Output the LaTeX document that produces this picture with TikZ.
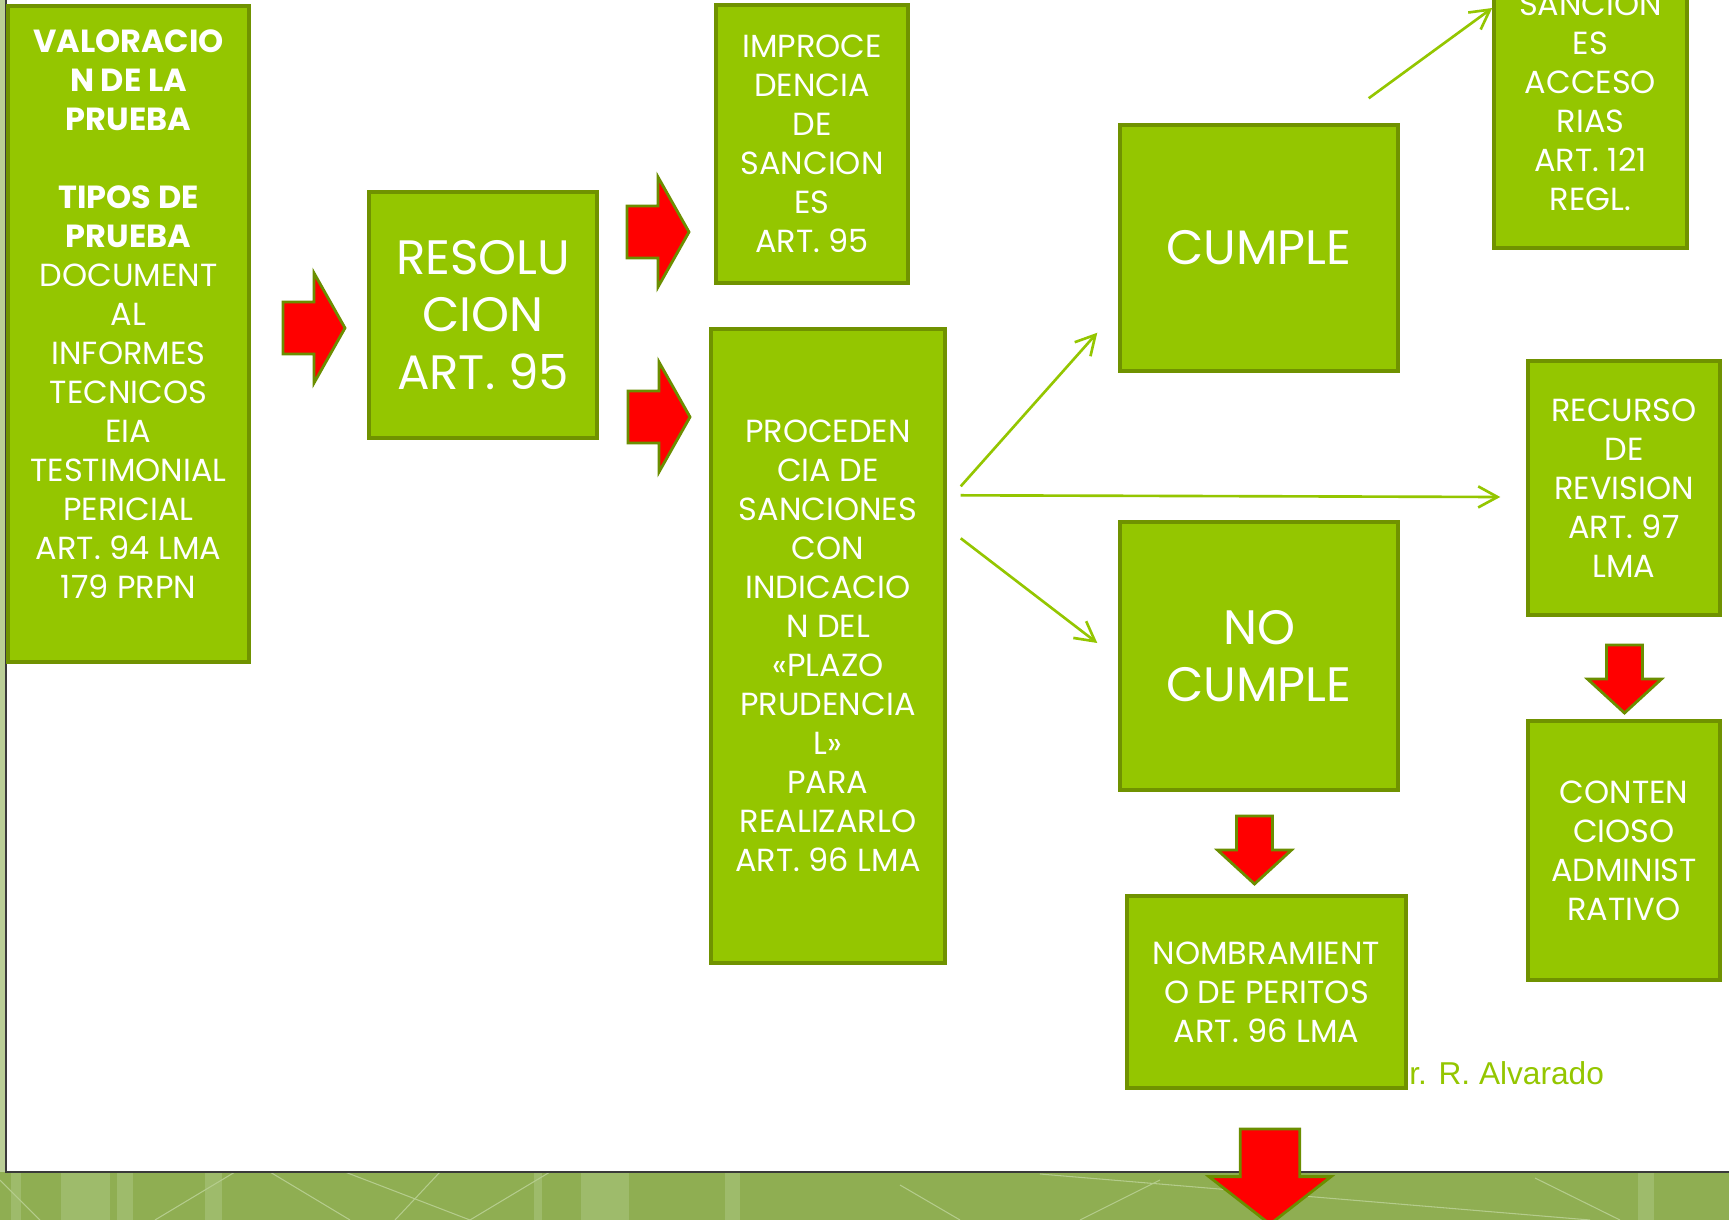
\documentclass[tikz,border=0pt]{standalone}
\usepackage{fontspec}
\setmainfont{Poppins}
\newfontfamily\firma{Liberation Sans}
\usetikzlibrary{arrows.meta}

\definecolor{verde}{RGB}{148,198,0}
\definecolor{verdeosc}{RGB}{112,146,0}
\definecolor{borde}{RGB}{107,142,0}
\definecolor{fondo}{RGB}{143,174,82}
\definecolor{franja}{RGB}{158,187,107}
\definecolor{raya}{RGB}{180,204,140}
\definecolor{marco}{RGB}{58,58,58}

\tikzset{
  caja/.style={draw=verdeosc, line width=2pt, fill=verde, text=white, align=center,
    inner sep=0pt, font=\fontsize{18.2}{22.2}\selectfont},
  grande/.style={font=\fontsize{27.5}{32.5}\selectfont},
  flecha/.style={draw=borde, fill=red, line width=1.6pt, line join=miter},
  enlace/.style={verde, line width=1.5pt, -{Straight Barb[length=11pt,width=12pt]}},
  pics/flechader/.style={code={
    \draw[flecha] (0,-26) -- (31,-26) -- (31,-55) -- (62,0) -- (31,55) -- (31,26) -- (0,26) -- cycle;}},
  pics/flechaabajo/.style={code={
    \draw[flecha] (-18,0) -- (18,0) -- (18,34) -- (37,34) -- (0,68) -- (-37,34) -- (-18,34) -- cycle;}}
}

\begin{document}
\begin{tikzpicture}[x=0.02cm, y=-0.02cm]
    \useasboundingbox (0,0) rectangle (1729,1220);

    % Fondo de la diapositiva
    \fill[fondo] (0,0) rectangle (1729,1220);
    \fill[franja!70!white] (0,0) rectangle (5,1172);
    \foreach \a/\b in {11/21, 61/110, 117/133, 205/222, 534/542, 581/629, 725/740, 1638/1654}
        \fill[franja] (\a,1172) rectangle (\b,1220);
    \foreach \a/\b/\c/\d in {0/1180/40/1220, 155/1220/235/1172, 270/1172/350/1220, 345/1172/470/1220,
        395/1220/440/1172, 470/1220/550/1172, 900/1185/960/1220, 1160/1180/1080/1220,
        1040/1174/1590/1220, 1535/1178/1620/1220}
        \draw[raya, line width=0.6pt] (\a,\b) -- (\c,\d);
    \fill[white] (6,0) rectangle (1729,1172);
    \draw[marco, line width=1.2pt] (6,0) |- (1729,1172);

    % Firma
    \node[anchor=west, inner sep=0pt, text=verde, font=\firma\fontsize{18}{20}\selectfont] (autor) at (1409,1073) {r. R. Alvarado};

    % Cajas principales
    \node[caja, minimum width=4.82cm, minimum height=13.12cm] (valor) at (128.5,334)
        {\textbf{VALORACIO}\\ \textbf{N DE LA}\\ \textbf{PRUEBA}\\ \mbox{}\\ \textbf{TIPOS DE}\\ \textbf{PRUEBA}\\
         DOCUMENT\\ AL\\ INFORMES\\ TECNICOS\\ EIA\\ TESTIMONIAL\\ PERICIAL\\ ART. 94 LMA\\ 179 PRPN\\ \mbox{}};
    \node[caja, grande, minimum width=4.56cm, minimum height=4.92cm] (resol) at (483,315) {RESOLU\\ CION\\ ART. 95};
    \node[caja, minimum width=3.84cm, minimum height=5.56cm] (improc) at (812,144)
        {IMPROCE\\ DENCIA\\ DE\\ SANCION\\ ES\\ ART. 95};
    \node[caja, minimum width=4.68cm, minimum height=12.68cm] (proced) at (828,646)
        {PROCEDEN\\ CIA DE\\ SANCIONES\\ CON\\ INDICACIO\\ N DEL\\ «PLAZO\\ PRUDENCIA\\ L»\\ PARA\\ REALIZARLO\\ ART. 96 LMA};

    % Cajas de resultado
    \node[caja, grande, minimum width=5.56cm, minimum height=4.92cm] (cumple) at (1259,248) {CUMPLE};
    \node[caja, grande, minimum width=5.56cm, minimum height=5.36cm] (nocumple) at (1259,656) {NO\\ CUMPLE};
    \node[caja, minimum width=3.86cm, minimum height=5.84cm] (sanc) at (1590.5,102)
        {SANCION\\ ES\\ ACCESO\\ RIAS\\ ART. 121\\ REGL.};
    \node[caja, minimum width=3.84cm, minimum height=5.08cm] (recurso) at (1624,488)
        {RECURSO\\ DE\\ REVISION\\ ART. 97\\ LMA};
    \node[caja, minimum width=3.84cm, minimum height=5.18cm] (contenc) at (1624,850.5)
        {CONTEN\\ CIOSO\\ ADMINIST\\ RATIVO};
    \node[caja, minimum width=5.58cm, minimum height=3.84cm] (nombr) at (1266.5,992)
        {NOMBRAMIENT\\ O DE PERITOS\\ ART. 96 LMA};

    % Flechas rojas
    \pic at (283,328) {flechader};
    \pic at (627,232) {flechader};
    \pic at (628,417) {flechader};
    \pic at (1254.5,816) {flechaabajo};
    \pic at (1624.5,645) {flechaabajo};
    \pic[xscale=1.65, yscale=1.4] at (1270,1129) {flechaabajo};

    % Flechas verdes
    \path[enlace, draw] ([shift={(14,159)}]proced.north east) -- ([shift={(-21,-40)}]cumple.south west);
    \path[enlace, draw] ([shift={(14,168)}]proced.north east) -- ([shift={(-26,9)}]recurso.west);
    \path[enlace, draw] ([shift={(14,211)}]proced.north east) -- ([shift={(-21,-13)}]nocumple.west);
    \path[enlace, draw] ([shift={(-31,-25)}]cumple.north east) -- ([shift={(0,-94)}]sanc.west);

\end{tikzpicture}
\end{document}
